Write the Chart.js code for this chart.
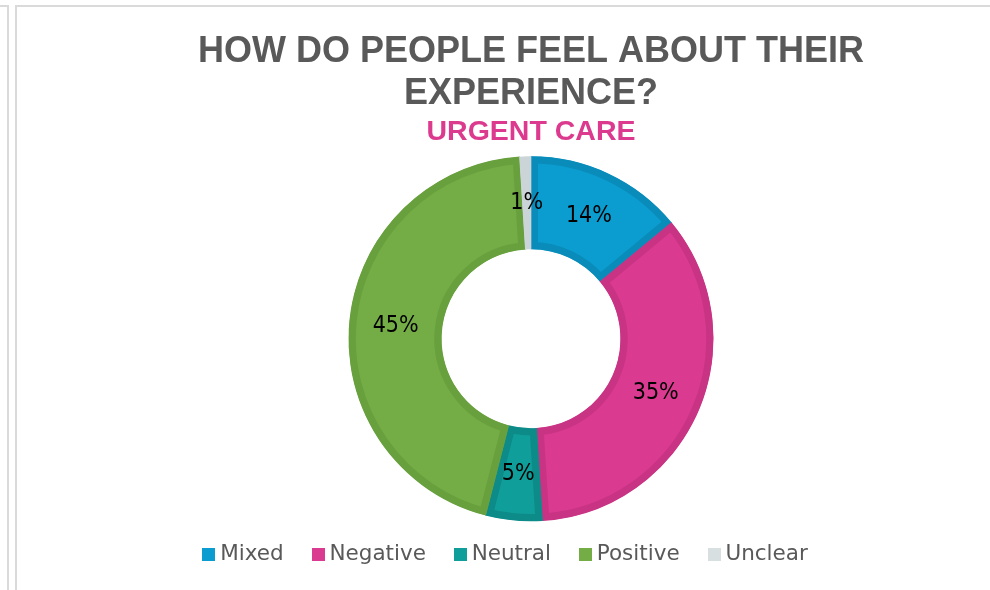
<!DOCTYPE html>
<html>
<head>
<meta charset="utf-8">
<title>Urgent care experience</title>
<script src="https://cdn.jsdelivr.net/npm/chart.js@4/dist/chart.umd.min.js"></script>
<style>
  html, body { margin: 0; padding: 0; background: #ffffff; overflow: hidden; width: 990px; height: 590px; }
  .rule { position: absolute; background: #dadada; }
  #chart { position: absolute; left: 17px; top: 7px; }
</style>
</head>
<body>
<div class="rule" style="left:0;top:5px;width:9px;height:2px"></div>
<div class="rule" style="left:7px;top:5px;width:2px;height:585px"></div>
<div class="rule" style="left:15px;top:5px;width:975px;height:2px"></div>
<div class="rule" style="left:15px;top:5px;width:2px;height:585px"></div>
<canvas id="chart" width="1028" height="583"></canvas>
<script>
// Share of responses by sentiment (percent)
const categories = ['Mixed', 'Negative', 'Neutral', 'Positive', 'Unclear'];
const shares = [14, 35, 5, 45, 1];

const titleLines = ['HOW DO PEOPLE FEEL ABOUT THEIR', 'EXPERIENCE?'];
const subtitleText = 'URGENT CARE';

const fillColors = ['#0b9dd0', '#db3a91', '#109e9b', '#74ad46', '#d7dfe1'];
const edgeColors = ['#0a8cbb', '#c93384', '#0d8b88', '#68a03e', '#cbd4d6'];
const legendText = '#595959';

// small square swatches for the legend
function swatch(color, size) {
  const c = document.createElement('canvas');
  c.width = size; c.height = size;
  const g = c.getContext('2d');
  g.fillStyle = color;
  g.fillRect(0, 0, size, size);
  return c;
}

// percentage labels in the middle of each ring segment
const sliceLabels = {
  id: 'sliceLabels',
  afterDatasetsDraw(chart) {
    const ctx = chart.ctx;
    const meta = chart.getDatasetMeta(0);
    ctx.save();
    ctx.font = '23px "DejaVu Sans Condensed", "DejaVu Sans", sans-serif';
    ctx.fillStyle = '#000000';
    ctx.textAlign = 'center';
    ctx.textBaseline = 'middle';
    meta.data.forEach((arc, i) => {
      const p = arc.tooltipPosition();
      ctx.fillText(shares[i] + '%', p.x, p.y);
    });
    ctx.restore();
  }
};

new Chart(document.getElementById('chart'), {
  type: 'doughnut',
  data: {
    labels: categories,
    datasets: [{
      data: shares,
      backgroundColor: fillColors,
      borderColor: edgeColors,
      borderWidth: 7,
      borderAlign: 'inner',
      clip: false
    }]
  },
  options: {
    responsive: false,
    animation: false,
    events: [],
    radius: 182.5,
    cutout: '49%',
    layout: { padding: { top: 0, bottom: 14.5, left: 0, right: 0 } },
    plugins: {
      tooltip: { enabled: false },
      title: {
        display: true,
        text: titleLines,
        color: '#595959',
        font: { family: '"Liberation Sans", Arial, sans-serif', size: 36, weight: 'bold', lineHeight: 1.1667 },
        padding: { top: 24, bottom: 0 }
      },
      subtitle: {
        display: true,
        text: subtitleText,
        color: '#dc3a8e',
        font: { family: '"Liberation Sans", Arial, sans-serif', size: 28.5, weight: 'bold', lineHeight: 1.12 },
        padding: { top: 1.5, bottom: 19.1 }
      },
      legend: {
        position: 'bottom',
        labels: {
          color: legendText,
          font: { family: '"DejaVu Sans", sans-serif', size: 21.5 },
          usePointStyle: true,
          boxWidth: 1,
          boxHeight: 13,
          padding: 34,
          generateLabels() {
            const items = categories.map((name, i) => ({
              text: name,
              fontColor: legendText,
              fillStyle: fillColors[i],
              strokeStyle: fillColors[i],
              lineWidth: 0,
              pointStyle: swatch(fillColors[i], 13),
              hidden: false,
              index: i
            }));
            // blank trailing entry keeps the row slightly left of centre
            items.push({
              text: '',
              fontColor: legendText,
              fillStyle: 'rgba(0,0,0,0)',
              strokeStyle: 'rgba(0,0,0,0)',
              lineWidth: 0,
              pointStyle: swatch('rgba(0,0,0,0)', 1),
              hidden: false,
              index: categories.length
            });
            return items;
          }
        }
      }
    }
  },
  plugins: [sliceLabels]
});
</script>
</body>
</html>
